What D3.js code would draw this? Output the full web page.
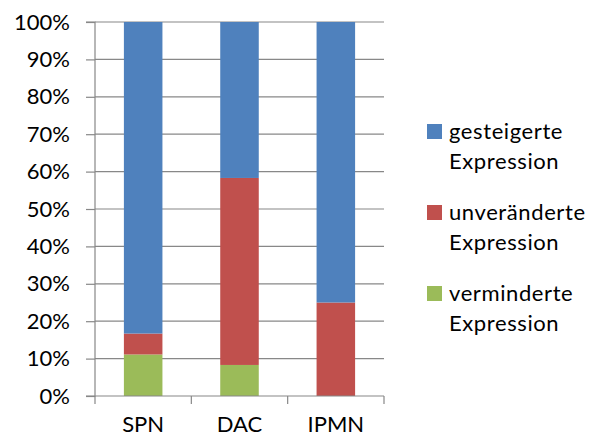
<!DOCTYPE html>
<html><head><meta charset="utf-8">
<script src="https://cdn.jsdelivr.net/npm/d3@7"></script>
<style>body{margin:0;background:#fff}svg{display:block}</style>
</head><body>
<svg id="c" width="597" height="438"></svg>
<script>
const categories = ["SPN", "DAC", "IPMN"];
const seriesNames = ["verminderte Expression", "unveränderte Expression", "gesteigerte Expression"];
const verminderte = [11.1, 8.3, 0];
const unveraenderte = [5.6, 50.0, 25.0];
const gesteigerte = [83.3, 41.7, 75.0];
const yTicks = [0, 10, 20, 30, 40, 50, 60, 70, 80, 90, 100];
const colors = ["#9BBB59", "#C0504D", "#4F81BD"];
const legendLines = [["gesteigerte", "Expression"], ["unveränderte", "Expression"], ["verminderte", "Expression"]];
const legendColors = ["#4F81BD", "#C0504D", "#9BBB59"];

const svg = d3.select("#c");
const font = "Lato, 'Open Sans', sans-serif";
const fs = 22;
const L = 95, R = 384, T = 22, B = 396;
const x = d3.scaleBand().domain(categories).range([L, R]).paddingInner(0.6).paddingOuter(0.3);
const xb = d3.scaleBand().domain(categories).range([L, R]);
const y = d3.scaleLinear().domain([0, 100]).range([B, T]);
const gridColor = "#888";

// gridlines
svg.append("g").selectAll("line").data(yTicks.slice(1)).join("line")
  .attr("x1", L).attr("x2", R).attr("y1", d => y(d)).attr("y2", d => y(d))
  .attr("stroke", gridColor).attr("stroke-width", 1.2);

// stacked bars
const data = categories.map((c, i) => ({cat: c, v0: verminderte[i], v1: unveraenderte[i], v2: gesteigerte[i]}));
const stack = d3.stack().keys(["v0", "v1", "v2"])(data);
svg.append("g").selectAll("g").data(stack).join("g").attr("fill", (d, i) => colors[i])
  .selectAll("rect").data(d => d).join("rect")
  .attr("x", d => x(d.data.cat)).attr("width", x.bandwidth())
  .attr("y", d => y(d[1])).attr("height", d => y(d[0]) - y(d[1]));

// y axis
const yAxis = d3.axisLeft(y).tickValues(yTicks).tickFormat(d => d + "%").tickSize(9).tickPadding(16);
const gy = svg.append("g").attr("transform", `translate(${L},0)`).call(yAxis);
gy.selectAll("path, line").attr("stroke", gridColor).attr("stroke-width", 1.2);
gy.select(".domain").attr("d", `M-9,${T}H0V${B}H-9`);
gy.selectAll("text").attr("font-family", font).attr("font-size", fs).attr("fill", "#000");

// x axis
const gx = svg.append("g").attr("transform", `translate(0,${B})`);
gx.append("line").attr("x1", L).attr("x2", R).attr("stroke", gridColor).attr("stroke-width", 1.2);
const bounds = [L].concat(categories.map(c => xb(c) + xb.bandwidth()));
gx.selectAll("line.t").data(bounds).join("line").attr("class", "t")
  .attr("x1", d => d).attr("x2", d => d).attr("y1", 0).attr("y2", 8)
  .attr("stroke", gridColor).attr("stroke-width", 1.2);
gx.selectAll("text").data(categories).join("text")
  .attr("x", d => xb(d) + xb.bandwidth() / 2).attr("y", 36)
  .attr("text-anchor", "middle").attr("font-family", font).attr("font-size", fs).attr("fill", "#000")
  .text(d => d);

// legend
const lg = svg.append("g");
legendLines.forEach((lines, i) => {
  const y0 = 131 + i * 81;
  lg.append("rect").attr("x", 427).attr("y", y0 - 7).attr("width", 15).attr("height", 15).attr("fill", legendColors[i]);
  lines.forEach((t, j) => {
    lg.append("text").attr("x", 449).attr("y", y0 + j * 30).attr("dy", "0.35em")
      .attr("font-family", font).attr("font-size", fs).attr("letter-spacing", 0.6).attr("fill", "#000").text(t);
  });
});
</script>
</body></html>
